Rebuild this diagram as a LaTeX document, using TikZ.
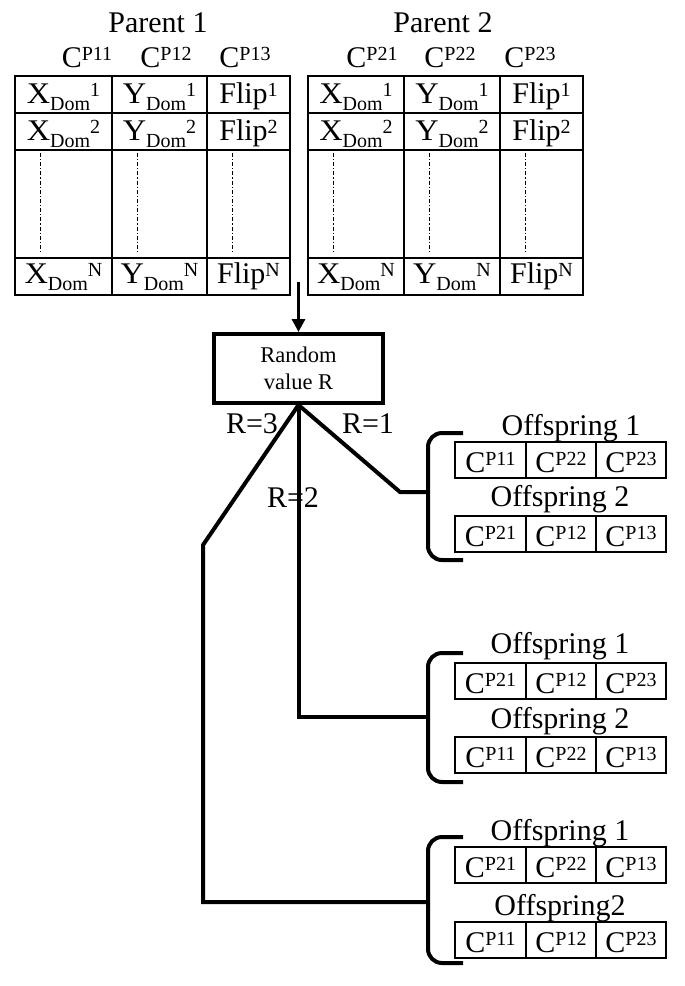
\documentclass[tikz,border=0pt]{standalone}
\usepackage{fontspec}
\setmainfont{Liberation Serif}
\usetikzlibrary{arrows.meta}
\newcommand\bigf{\fontsize{30}{34}\selectfont}
\newcommand\sps[1]{\raisebox{6.5pt}{\fontsize{20}{20}\selectfont #1}}
\newcommand\sbs[1]{\raisebox{-7pt}{\fontsize{20}{20}\selectfont #1}}
\newcommand\offrow[4]{%
  \draw[tbl] (455,#1) rectangle (666,#1+36);
  \draw[tbl] (526,#1) -- (526,#1+36) (596,#1) -- (596,#1+36);
  \node[txt] at (490.5,#1+30) {C\sps{#2}};
  \node[txt] at (561,#1+30) {C\sps{#3}};
  \node[txt] at (631,#1+30) {C\sps{#4}};
}
\newcommand\ptable[4]{% x0 x1 x2 x3
  \draw[tbl] (#1,76) rectangle (#4,295);
  \draw[tbl] (#2,76) -- (#2,295) (#3,76) -- (#3,295);
  \draw[tbl] (#1,113) -- (#4,113) (#1,150) -- (#4,150) (#1,258) -- (#4,258);
  \foreach \yy/\ss in {103/1,140/2,283/N}{
    \node[txt] at ({(#1+#2)/2},\yy) {\scalebox{1.08}[1]{X}\sbs{Dom}\sps{\ss}};
    \node[txt] at ({(#2+#3)/2},\yy) {\scalebox{1.08}[1]{Y}\sbs{Dom}\sps{\ss}};
    \node[txt] at ({(#3+#4)/2},\yy) {Flip\sps{\ss}};
  }
  \foreach \xx in {#1,#2,#3}{
    \draw[dd] (\xx+25,153) -- (\xx+25,252);
  }
}
\begin{document}
\begin{tikzpicture}[x=1pt,y=-1pt,
  txt/.style={font=\bigf, anchor=base, inner sep=0pt},
  tbl/.style={line width=1.3pt},
  dd/.style={line width=1pt, dash pattern=on 4pt off 2pt on 1.2pt off 2pt},
  conn/.style={line width=4pt, line join=miter},
  brc/.style={line width=4pt, rounded corners=14pt},
  rbox/.style={draw, line width=4pt, minimum width=169pt, minimum height=69pt, align=center,
    font=\fontsize{22.5}{27}\selectfont, inner sep=0pt}]
\useasboundingbox (0,0) rectangle (685,986);
\fill[white] (0,0) rectangle (685,986);

% Parent 1
\node[txt] (p1) at (158,32) {Parent 1};
\node[txt] (c11) at (87,67) {C\sps{P11}};
\node[txt] (c12) at (166,67) {C\sps{P12}};
\node[txt] (c13) at (245,67) {C\sps{P13}};
\ptable{15}{112}{207}{290}

% Parent 2
\node[txt] (p2) at (443,32) {Parent 2};
\node[txt] (c21) at (372,67) {C\sps{P21}};
\node[txt] (c22) at (450,67) {C\sps{P22}};
\node[txt] (c23) at (530,67) {C\sps{P23}};
\ptable{308}{404}{500}{583}

% Random box
\node[rbox] (rnd) at (298.5,368.5) {Random\\value R};
\coordinate (a0) at (298.5,282);
\draw[line width=3pt, -{Triangle[length=13pt,width=13pt]}] (a0) -- (rnd.north);

% braces
\coordinate (b1) at (428,492);
\coordinate (b2) at (428,717);
\coordinate (b3) at (428,902);
\draw[brc] (463,433) -- (428,433) -- (428,560) -- (463,560);
\draw[brc] (463,653) -- (428,653) -- (428,782) -- (463,782);
\draw[brc] (463,837) -- (428,837) -- (428,963) -- (463,963);

% connectors
\coordinate (k1) at (400,492);
\coordinate (k2) at (298.5,717);
\coordinate (k3a) at (203,545);
\coordinate (k3b) at (203,902);
\draw[conn] (rnd.south) -- (k1) -- (b1);
\draw[conn] (rnd.south) -- (k2) -- (b2);
\draw[conn] (rnd.south) -- (k3a) -- (k3b) -- (b3);

\node[txt] (r3) at (252,433) {R=3};
\node[txt] (r1) at (368,433) {R=1};
\node[txt] (r2) at (293,507) {R=2};

% Offspring group 1
\node[txt] (o11) at (571,435) {Offspring 1};
\offrow{442}{P11}{P22}{P23}
\node[txt] (o12) at (560,506) {Offspring 2};
\offrow{516}{P21}{P12}{P13}

% Offspring group 2
\node[txt] (o21) at (560,653) {Offspring 1};
\offrow{663}{P21}{P12}{P23}
\node[txt] (o22) at (560,728) {Offspring 2};
\offrow{737}{P11}{P22}{P13}

% Offspring group 3
\node[txt] (o31) at (560,840) {Offspring 1};
\offrow{847}{P21}{P22}{P13}
\node[txt] (o32) at (560,915) {Offspring2};
\offrow{922}{P11}{P12}{P23}
\end{tikzpicture}
\end{document}
